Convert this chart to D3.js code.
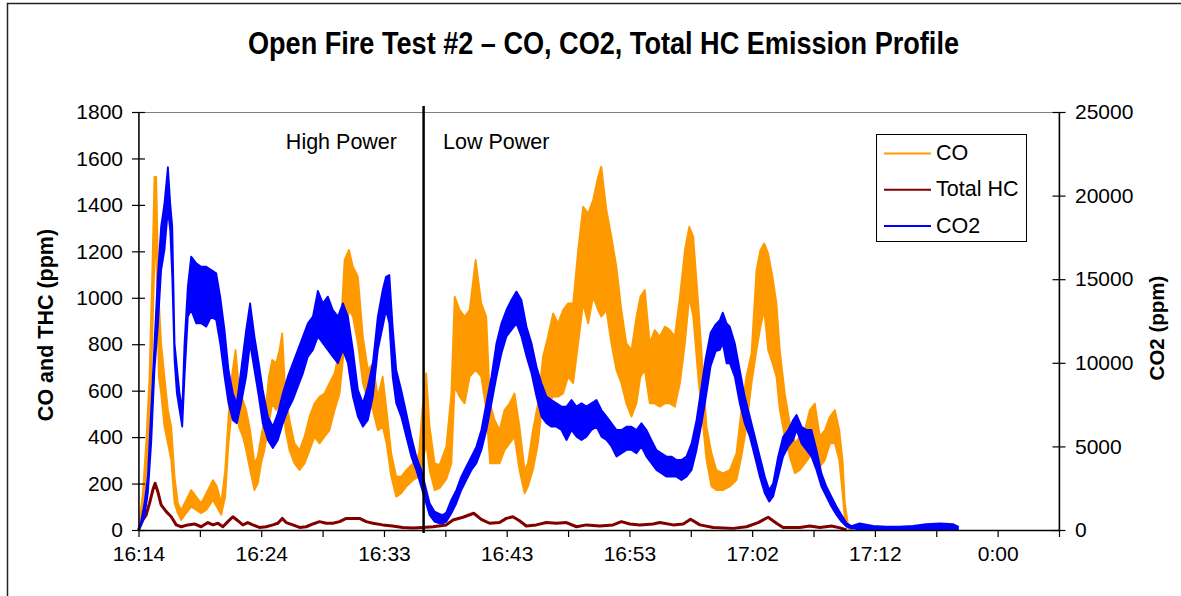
<!DOCTYPE html>
<html>
<head>
<meta charset="utf-8">
<script src="https://cdn.jsdelivr.net/npm/d3@7"></script>
<style>
  body { margin: 0; background: #fff; }
  svg { display: block; font-family: Arial, "Liberation Sans", sans-serif; }
</style>
</head>
<body>
<div id="chart"></div>
<script>
// elapsed minutes since 16:14, CO and CO2 are noisy so each sample keeps a low / high reading
const coTime = [0, 0.34, 0.6, 0.86, 1.07, 1.25, 1.38, 1.59, 1.77, 2.03, 2.3, 2.56, 2.82, 3.08, 3.34, 3.73, 4.12, 4.52, 4.9, 5.3,
  5.82, 6.13, 6.47, 6.78, 7.04, 7.3, 7.59, 7.85, 8.16, 8.42, 8.73, 9.07, 9.33, 9.59, 9.85, 10.2, 10.46, 10.77, 11.03, 11.24,
  11.5, 11.81, 12.2, 12.6, 12.99, 13.38, 13.77, 14.16, 14.55, 14.94, 15.34, 15.73, 16.12, 16.46, 16.77, 17.16, 17.55, 17.94, 18.33, 18.72,
  19.1, 19.4, 19.77, 20.16, 20.55, 20.95, 21.47, 21.94, 22.2, 22.5, 22.77, 23.16, 23.55, 24.08, 24.47, 24.73, 25.12, 25.51, 25.9, 26.37,
  26.81, 27.2, 27.5, 27.85, 28.24, 28.63, 29.02, 29.41, 29.8, 30.2, 30.46, 30.85, 31.25, 31.64, 32.03, 32.43, 32.82, 33.21, 33.6, 34.0,
  34.39, 34.78, 35.17, 35.56, 35.95, 36.2, 36.6, 36.99, 37.38, 37.77, 38.16, 38.56, 38.95, 39.26, 39.6, 39.99, 40.38, 40.77, 41.17, 41.56,
  41.95, 42.35, 42.74, 43.08, 43.39, 43.78, 44.17, 44.43, 44.82, 45.2, 45.73, 46.25, 46.77, 47.16, 47.55, 47.95, 48.34, 48.65, 48.94, 49.25,
  49.59, 49.9, 50.16, 50.55, 50.94, 51.34, 51.73, 52.12, 52.51, 52.9, 53.29, 53.69, 54.08, 54.47, 54.81, 55.07, 55.25, 55.51, 55.77];
const coLow = [0, 86, 230, 445, 804, 1163, 1234, 660, 588, 445, 373, 301, 115, 72, 43, 72, 100, 86, 72, 86,
  129, 100, 65, 143, 373, 517, 560, 445, 402, 344, 258, 172, 201, 287, 344, 459, 545, 517, 545, 588,
  430, 344, 287, 258, 287, 344, 402, 373, 402, 430, 517, 588, 804, 947, 919, 804, 632, 560, 517, 430,
  445, 373, 230, 143, 158, 187, 215, 230, 287, 373, 258, 172, 180, 220, 287, 617, 574, 545, 660, 689,
  660, 517, 287, 287, 287, 344, 373, 402, 258, 158, 187, 258, 373, 574, 545, 574, 574, 588, 660, 632,
  804, 976, 890, 1005, 947, 919, 947, 804, 689, 632, 545, 488, 545, 660, 689, 545, 545, 531, 545, 545,
  531, 632, 804, 1005, 919, 660, 445, 301, 187, 172, 172, 187, 215, 316, 445, 632, 775, 875, 947, 775,
  718, 660, 517, 402, 316, 244, 258, 287, 316, 402, 273, 301, 373, 373, 301, 158, 43, 7, 0];
const coHigh = [0, 158, 373, 660, 1091, 1521, 1521, 990, 804, 660, 517, 445, 230, 115, 86, 129, 172, 143, 115, 158,
  215, 187, 115, 258, 488, 660, 775, 617, 560, 517, 430, 287, 316, 402, 474, 660, 732, 718, 775, 847,
  574, 474, 373, 344, 402, 488, 545, 574, 588, 632, 675, 775, 1163, 1206, 1134, 1091, 833, 689, 718, 574,
  660, 517, 330, 230, 230, 258, 287, 330, 517, 675, 445, 287, 280, 360, 588, 1005, 947, 919, 947, 1163,
  976, 919, 545, 474, 430, 517, 545, 588, 445, 258, 287, 430, 545, 746, 833, 933, 890, 947, 976, 976,
  1206, 1392, 1363, 1421, 1521, 1565, 1378, 1263, 1134, 947, 804, 775, 919, 1005, 1034, 804, 861, 833, 876, 861,
  833, 1005, 1206, 1306, 1263, 976, 660, 445, 330, 258, 244, 258, 330, 517, 660, 761, 1120, 1206, 1234, 1191,
  1091, 976, 775, 588, 459, 373, 402, 430, 517, 545, 402, 430, 488, 517, 430, 301, 115, 20, 0];

const hcTime = [0, 0.34, 0.6, 0.86, 1.12, 1.3, 1.51, 1.77, 2.17, 2.56, 2.95, 3.34, 3.86, 4.38, 4.9, 5.43, 5.82, 6.21, 6.6, 6.99,
  7.38, 7.77, 8.16, 8.55, 8.94, 9.46, 9.98, 10.51, 10.9, 11.24, 11.55, 12.07, 12.6, 13.12, 13.64, 14.16, 14.68, 15.2, 15.73, 16.25,
  16.77, 17.29, 17.81, 18.33, 19.1, 19.88, 20.66, 21.47, 22.2, 23.03, 24.08, 24.6, 25.38, 26.22, 26.81, 27.46, 28.24, 28.77, 29.28, 29.8,
  30.33, 31.12, 31.9, 32.69, 33.47, 34.26, 35.04, 36.08, 37.12, 37.77, 38.43, 39.21, 40.25, 40.77, 41.82, 42.61, 43.18, 43.91, 44.96, 46.52,
  47.56, 48.47, 49.25, 49.9, 50.42, 51.73, 52.51, 53.29, 54.21, 54.86, 55.38];
const hcValue = [0, 43, 65, 115, 172, 201, 165, 108, 79, 57, 22, 14, 22, 26, 14, 32, 22, 29, 14, 36,
  57, 40, 22, 32, 22, 11, 14, 22, 29, 50, 32, 22, 11, 14, 26, 36, 29, 29, 36, 50,
  50, 50, 36, 29, 22, 17, 11, 9, 11, 14, 22, 43, 55, 72, 46, 29, 32, 50, 57, 40,
  17, 22, 32, 29, 32, 14, 22, 17, 22, 36, 26, 22, 26, 32, 22, 26, 46, 22, 11, 7,
  14, 32, 55, 29, 11, 11, 17, 11, 17, 9, 0];

const co2Time = [0, 0.2, 0.47, 0.73, 0.99, 1.25, 1.51, 1.77, 2.03, 2.3, 2.48, 2.64, 2.82, 3.0, 3.21, 3.42, 3.6, 3.86, 4.12, 4.52,
  4.9, 5.3, 5.69, 6.08, 6.39, 6.73, 7.04, 7.38, 7.69, 8.03, 8.42, 8.73, 9.07, 9.41, 9.72, 10.12, 10.51, 10.9, 11.29, 11.68,
  12.07, 12.47, 12.86, 13.25, 13.64, 14.03, 14.42, 14.81, 15.2, 15.6, 15.99, 16.38, 16.77, 17.16, 17.55, 17.94, 18.33, 18.72, 19.1, 19.36,
  19.62, 19.88, 20.16, 20.55, 20.95, 21.34, 21.73, 22.12, 22.38, 22.77, 23.16, 23.56, 23.81, 24.08, 24.47, 24.86, 25.25, 25.64, 26.04, 26.43,
  26.82, 27.21, 27.61, 28.0, 28.39, 28.78, 29.17, 29.56, 29.95, 30.35, 30.74, 31.13, 31.52, 31.91, 32.3, 32.69, 33.08, 33.48, 33.87, 34.26,
  34.65, 35.04, 35.43, 35.82, 36.21, 36.61, 37.0, 37.39, 37.78, 38.17, 38.56, 38.95, 39.34, 39.73, 40.12, 40.51, 40.9, 41.3, 41.69, 42.08,
  42.47, 42.86, 43.26, 43.65, 44.04, 44.35, 44.75, 45.15, 45.47, 45.7, 46.0, 46.25, 46.64, 47.03, 47.42, 47.82, 48.21, 48.6, 48.99, 49.33,
  49.64, 50.03, 50.42, 50.82, 51.21, 51.47, 51.86, 52.25, 52.64, 53.03, 53.42, 53.81, 54.2, 54.6, 54.99, 55.38, 55.77, 56.4, 57.45, 58.5,
  59.5, 60.6, 61.6, 62.7, 63.7, 64.1];
const co2Low = [0, 300, 800, 2200, 5180, 9570, 12160, 15550, 16750, 19140, 17950, 15150, 10170, 8180, 7180, 6180, 9170, 12760, 13160, 12360,
  12360, 12160, 12760, 12560, 11170, 9170, 7580, 6580, 6380, 7580, 9170, 11170, 9570, 7980, 6380, 5380, 4900, 5380, 6380, 7180,
  7780, 8580, 9370, 10370, 10770, 11570, 11170, 10770, 10370, 9970, 10770, 9970, 7980, 6780, 6180, 6580, 7980, 10770, 12160, 13160,
  12360, 9170, 7580, 6780, 5580, 4390, 3590, 2590, 1900, 900, 500, 400, 400, 500, 1000, 1600, 2390, 2990, 3590, 3990,
  4790, 5980, 7580, 9170, 10570, 11570, 11960, 12360, 11570, 10370, 9370, 7980, 6780, 6380, 6180, 6180, 5980, 5380, 5980, 5580,
  5380, 5580, 5980, 6180, 5580, 5380, 4990, 4390, 4590, 4790, 4790, 4590, 4990, 4390, 3990, 3590, 3390, 3190, 3190, 3190,
  2990, 3190, 3590, 4790, 6380, 7800, 9800, 10700, 10770, 11170, 9970, 9970, 9170, 7580, 6380, 5580, 4390, 3190, 2190, 1700,
  2000, 3190, 4390, 4990, 5380, 5980, 5180, 4790, 4390, 3590, 2590, 2000, 1400, 900, 500, 200, 100, 40, 40, 40,
  40, 40, 40, 40, 40, 40];
const co2High = [0, 500, 1600, 3190, 7180, 11170, 15150, 18150, 19540, 21700, 19540, 18150, 11170, 9770, 8180, 7180, 11170, 14560, 16350, 15950,
  15750, 15750, 15550, 15350, 13960, 11960, 9570, 8180, 7580, 9570, 11960, 13560, 11570, 9970, 8380, 6780, 6180, 6980, 8180, 9170,
  9970, 10770, 11570, 12360, 12760, 14300, 13560, 13960, 13160, 12760, 13560, 12760, 10770, 8380, 7580, 8580, 9970, 12760, 14360, 15150,
  15250, 12160, 9570, 8380, 6980, 5580, 4390, 3590, 2800, 1600, 1100, 950, 900, 1050, 1800, 2390, 3190, 3790, 4390, 4990,
  5980, 7580, 9170, 11170, 12360, 13160, 13760, 14260, 13760, 12160, 11170, 9770, 8780, 7980, 7780, 7580, 7380, 7380, 7780, 7380,
  7580, 7380, 7580, 7780, 7180, 6780, 6380, 5980, 5980, 6180, 6180, 5980, 6380, 5980, 5380, 4790, 4590, 4390, 4390, 4190,
  4190, 4390, 5180, 6580, 8580, 10200, 11800, 12300, 12560, 13000, 12360, 12160, 11170, 9570, 7980, 6780, 5580, 4390, 3190, 2390,
  2790, 4390, 5580, 5980, 6580, 6880, 6180, 5980, 5980, 4790, 3390, 2590, 2000, 1400, 900, 400, 240, 400, 250, 200,
  200, 250, 350, 400, 350, 200];

const seriesNames = ['CO', 'Total HC', 'CO2'];
const seriesColors = ['#FF9900', '#800000', '#0000FF'];

const xTickLabels = ['16:14', '16:24', '16:33', '16:43', '16:53', '17:02', '17:12', '0:00'];
const xTickStep = 4.8;       // minutes between tick marks, labels on every second one
const xMax = 72;
const leftTicks = [0, 200, 400, 600, 800, 1000, 1200, 1400, 1600, 1800];
const rightTicks = [0, 5000, 10000, 15000, 20000, 25000];
const powerSwitch = 22.3;    // minute where high power changes to low power

const width = 1181, height = 596;
const plot = {left: 138.5, right: 1059, top: 112, bottom: 530};

const svg = d3.select('#chart').append('svg')
  .attr('width', width)
  .attr('height', height);

svg.append('rect').attr('width', width).attr('height', height).attr('fill', '#fff');

// chart frame (only left and top edges fall inside the picture)
svg.append('path')
  .attr('d', `M7.5,${height} V3.5 H${width}`)
  .attr('fill', 'none')
  .attr('stroke', '#222')
  .attr('stroke-width', 1.5);

svg.append('text')
  .attr('x', 603.5)
  .attr('y', 54)
  .attr('text-anchor', 'middle')
  .attr('font-weight', 'bold')
  .attr('font-size', 31)
  .attr('textLength', 711)
  .attr('lengthAdjust', 'spacingAndGlyphs')
  .text('Open Fire Test #2 \u2013 CO, CO2, Total HC Emission Profile');

const x = d3.scaleLinear().domain([0, xMax]).range([plot.left, plot.right]);
const yL = d3.scaleLinear().domain([0, 1800]).range([plot.bottom, plot.top]);
const yR = d3.scaleLinear().domain([0, 25000]).range([plot.bottom, plot.top]);

svg.append('rect')
  .attr('x', plot.left).attr('y', plot.top + 0.5)
  .attr('width', plot.right - plot.left).attr('height', plot.bottom - plot.top)
  .attr('fill', 'none')
  .attr('stroke', '#808080');

// series
const coData = coTime.map((t, i) => ({t: t, lo: coLow[i], hi: coHigh[i]}));
const co2Data = co2Time.map((t, i) => ({t: t, lo: co2Low[i], hi: co2High[i]}));
const hcData = hcTime.map((t, i) => ({t: t, v: hcValue[i]}));

const coArea = d3.area().x(d => x(d.t)).y0(d => yL(d.lo)).y1(d => yL(d.hi));
const co2Area = d3.area().x(d => x(d.t)).y0(d => yR(d.lo)).y1(d => yR(d.hi));
const hcLine = d3.line().x(d => x(d.t)).y(d => yL(d.v));

svg.append('path')
  .datum(coData)
  .attr('d', coArea)
  .attr('fill', seriesColors[0])
  .attr('stroke', seriesColors[0])
  .attr('stroke-width', 1.8)
  .attr('stroke-linejoin', 'round');

svg.append('path')
  .datum(hcData)
  .attr('d', hcLine)
  .attr('fill', 'none')
  .attr('stroke', seriesColors[1])
  .attr('stroke-width', 3)
  .attr('stroke-linejoin', 'round');

svg.append('path')
  .datum(co2Data)
  .attr('d', co2Area)
  .attr('fill', seriesColors[2])
  .attr('stroke', seriesColors[2])
  .attr('stroke-width', 1.8)
  .attr('stroke-linejoin', 'round');

// high / low power divider
svg.append('line')
  .attr('x1', x(powerSwitch)).attr('x2', x(powerSwitch))
  .attr('y1', 106).attr('y2', 533)
  .attr('stroke', '#000')
  .attr('stroke-width', 2.5);

svg.append('text')
  .attr('x', 397).attr('y', 149)
  .attr('text-anchor', 'end')
  .attr('font-size', 21.5)
  .text('High Power');

svg.append('text')
  .attr('x', 443).attr('y', 149)
  .attr('font-size', 21.5)
  .text('Low Power');

// axes
const gLeft = svg.append('g')
  .attr('transform', `translate(${plot.left},0)`)
  .call(d3.axisLeft(yL).tickValues(leftTicks).tickFormat(d3.format('d'))
    .tickSize(6.5).tickSizeOuter(0).tickPadding(9));

const gRight = svg.append('g')
  .attr('transform', `translate(${plot.right},0)`)
  .call(d3.axisRight(yR).tickValues(rightTicks).tickFormat(d3.format('d'))
    .tickSize(6.5).tickSizeOuter(0).tickPadding(9.5));

const xTicks = d3.range(0, 16).map(i => i * xTickStep);
const gBottom = svg.append('g')
  .attr('transform', `translate(0,${plot.bottom})`)
  .call(d3.axisBottom(x).tickValues(xTicks).tickSize(7).tickSizeOuter(0).tickPadding(9)
    .tickFormat((d, i) => i % 2 === 0 ? (xTickLabels[i / 2] || '') : ''));

// ticks cross the vertical axes
gLeft.selectAll('.tick line').attr('x1', 6.5);
gRight.selectAll('.tick line').attr('x1', -6.5);

[gLeft, gRight, gBottom].forEach(g => {
  g.select('.domain').attr('stroke', '#000').attr('stroke-width', 1.4);
  g.selectAll('.tick line').attr('stroke', '#000').attr('stroke-width', 1.2);
  g.selectAll('.tick text')
    .attr('fill', '#000')
    .attr('font-size', 21)
    .attr('font-family', 'Arial, "Liberation Sans", sans-serif');
});

svg.append('text')
  .attr('transform', 'translate(45,325) rotate(-90)')
  .attr('dy', '0.35em')
  .attr('text-anchor', 'middle')
  .attr('font-weight', 'bold')
  .attr('font-size', 21.5)
  .text('CO and THC (ppm)');

svg.append('text')
  .attr('transform', 'translate(1157,328) rotate(-90)')
  .attr('dy', '0.35em')
  .attr('text-anchor', 'middle')
  .attr('font-weight', 'bold')
  .attr('font-size', 20.5)
  .text('CO2 (ppm)');

// legend
const legend = svg.append('g').attr('transform', 'translate(876.5,134.5)');
legend.append('rect')
  .attr('width', 150).attr('height', 107)
  .attr('fill', '#fff')
  .attr('stroke', '#000');

seriesNames.forEach((name, i) => {
  const yy = 19 + i * 36.3;
  legend.append('line')
    .attr('x1', 7.5).attr('x2', 54.5)
    .attr('y1', yy).attr('y2', yy)
    .attr('stroke', seriesColors[i])
    .attr('stroke-width', 2);
  legend.append('text')
    .attr('x', 59.5).attr('y', yy + 6.5)
    .attr('font-size', 21.5)
    .text(name);
});
</script>
</body>
</html>
